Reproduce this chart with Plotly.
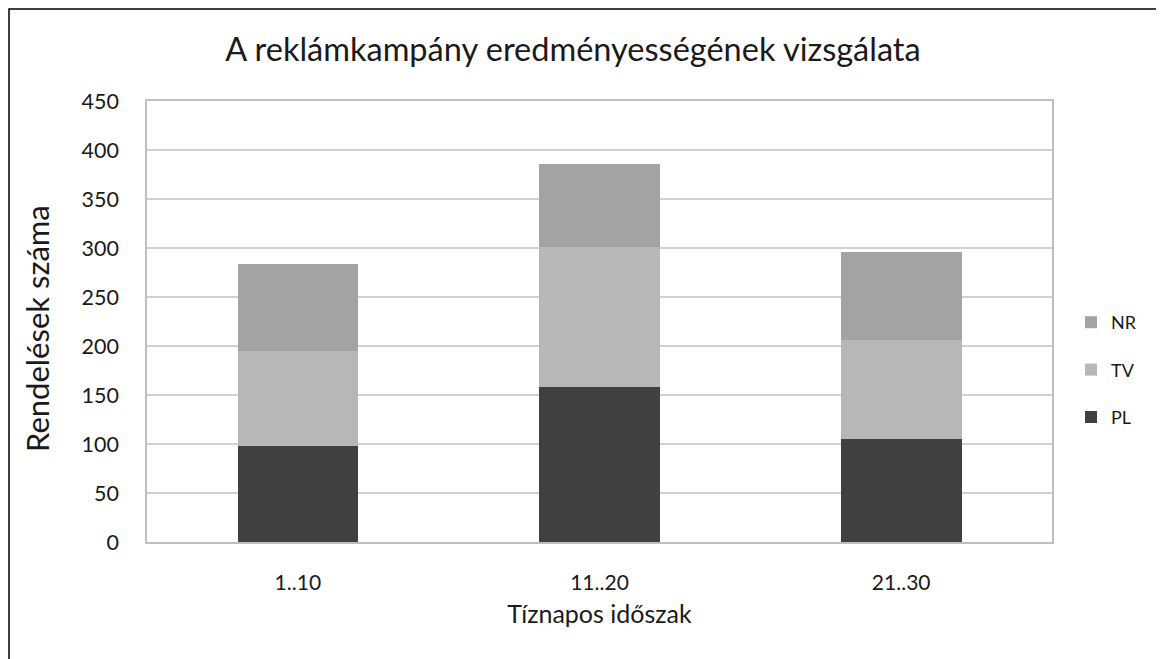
import plotly.graph_objects as go

categories = ["1..10", "11..20", "21..30"]
pl = [98, 158, 105]
tv = [97, 143, 101]
nr = [89, 85, 90]

# figure sits at an 8px page offset, so sizes are set in figure coordinates
W, H = 1156, 651
L, R, T, B = 139, 112, 93, 117
pw, ph = W - L - R, H - T - B

def px(x):
    return (x - L) / pw

def py(y):
    return (H - B - y) / ph

font = "Lato"
fig = go.Figure()
fig.add_trace(go.Bar(name="PL", x=categories, y=pl, legendgroup="pl", legendrank=3,
                     marker=dict(color="#404040", line=dict(width=0))))
fig.add_trace(go.Bar(name="TV", x=categories, y=tv, legendgroup="tv", legendrank=2,
                     marker=dict(color="#B7B7B7", line=dict(width=0))))
fig.add_trace(go.Bar(name="NR", x=categories, y=nr, legendgroup="nr", legendrank=1,
                     marker=dict(color="#A3A3A3", line=dict(width=0))))

fig.update_layout(
    width=W, height=H,
    barmode="stack", bargap=0.6,
    margin=dict(l=L, r=R, t=T, b=B, autoexpand=False),
    paper_bgcolor="white", plot_bgcolor="white",
    font=dict(family=font, color="#1a1a1a", size=21),
    title=dict(text="A reklámkampány eredményességének vizsgálata", xref="container", x=565 / W,
               xanchor="center", y=1 - 42 / H, yanchor="middle",
               font=dict(size=32.5, family=font, color="#1a1a1a")),
    showlegend=True,
    legend=dict(x=px(1063), y=py(296), xanchor="left", yanchor="top", traceorder="grouped",
                font=dict(size=18), itemwidth=30, tracegroupgap=21, bgcolor="rgba(0,0,0,0)"),
    xaxis=dict(showline=True, linecolor="#BFBFBF", linewidth=1.5, mirror=True,
               ticks="", ticklabelstandoff=21, tickfont=dict(size=21),
               title=dict(text="Tíznapos időszak", font=dict(size=25), standoff=13)),
    yaxis=dict(range=[0, 450], dtick=50, showline=True, linecolor="#BFBFBF", linewidth=1.5, mirror=True,
               gridcolor="#D0D0D0", gridwidth=1.5, ticks="", ticklabelstandoff=22, tickfont=dict(size=21.5),
               zeroline=False),
    annotations=[dict(text="Rendelések száma", textangle=-90, xref="paper", yref="paper",
                      x=px(29), y=py(321), xanchor="center", yanchor="middle", showarrow=False,
                      font=dict(size=31, family=font, color="#1a1a1a"))],
    shapes=[dict(type="rect", xref="paper", yref="paper",
                 x0=px(1), x1=px(1149), y0=py(660), y1=py(1),
                 line=dict(color="black", width=1.5))],
)

fig.write_html("out.html")
